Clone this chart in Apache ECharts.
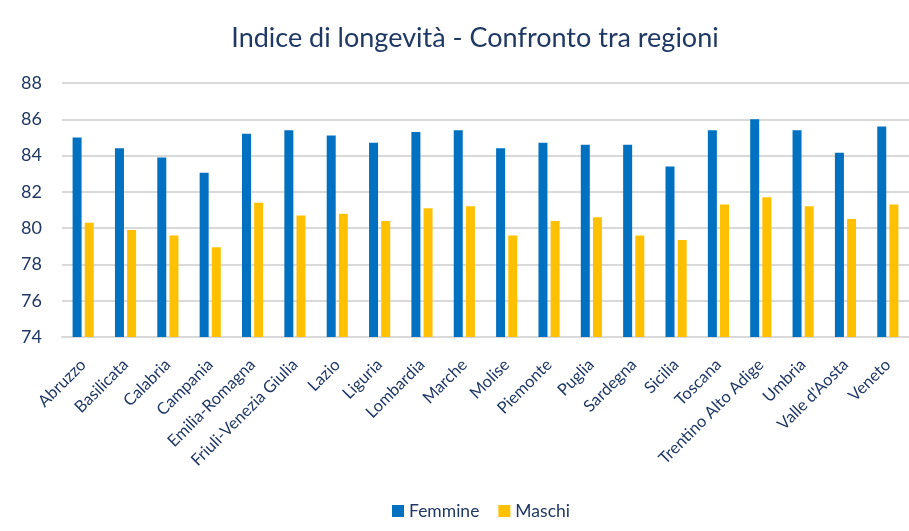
<!DOCTYPE html>
<html>
<head>
<meta charset="utf-8">
<script src="https://cdn.jsdelivr.net/npm/echarts@6/dist/echarts.min.js"></script>
<style>
  html, body { margin: 0; padding: 0; background: #fff; }
  #chart { width: 909px; height: 531px; }
</style>
</head>
<body>
<div id="chart"></div>
<script>
// dati
const regioni = ['Abruzzo', 'Basilicata', 'Calabria', 'Campania', 'Emilia-Romagna', 'Friuli-Venezia Giulia',
  'Lazio', 'Liguria', 'Lombardia', 'Marche', 'Molise', 'Piemonte', 'Puglia', 'Sardegna', 'Sicilia',
  'Toscana', 'Trentino Alto Adige', 'Umbria', "Valle d'Aosta", 'Veneto']
const femmine = [85.0, 84.4, 83.9, 83.05, 85.2, 85.4, 85.1, 84.7, 85.3, 85.4, 84.4, 84.7, 84.6, 84.6, 83.4,
  85.4, 86.0, 85.4, 84.15, 85.6]
const maschi = [80.3, 79.9, 79.6, 78.95, 81.4, 80.7, 80.8, 80.4, 81.1, 81.2, 79.6, 80.4, 80.6, 79.6, 79.35,
  81.3, 81.7, 81.2, 80.5, 81.3]

const testo = '#1F3864'
const font = 'Lato'

let chart = echarts.init(document.getElementById('chart'))
let option = {
  backgroundColor: '#fff',
  animation: false,
  title: {
    text: 'Indice di longevità - Confronto tra regioni',
    left: 470,
    textAlign: 'center',
    top: 20,
    textStyle: { color: testo, fontFamily: font, fontSize: 27, fontWeight: 'normal' }
  },
  legend: {
    top: 497,
    left: 387,
    icon: 'rect',
    itemWidth: 12,
    itemHeight: 12,
    itemGap: 19,
    textStyle: { color: testo, fontFamily: font, fontSize: 17.5 },
    data: ['Femmine', 'Maschi']
  },
  grid: {
    left: 62,
    top: 83,
    width: 854,
    height: 254
  },
  xAxis: {
    type: 'category',
    data: regioni,
    axisLine: { lineStyle: { color: '#D9D9D9', width: 2 } },
    axisTick: { show: false },
    axisLabel: {
      rotate: 45,
      interval: 0,
      margin: 25,
      color: testo,
      fontFamily: font,
      fontSize: 16.5
    }
  },
  yAxis: {
    type: 'value',
    min: 74,
    max: 88,
    interval: 2,
    axisLine: { show: false },
    axisTick: { show: false },
    splitLine: { lineStyle: { color: '#D9D9D9', width: 2 } },
    axisLabel: { color: testo, fontFamily: font, fontSize: 18, margin: 20 }
  },
  series: [
    {
      name: 'Femmine',
      type: 'bar',
      data: femmine,
      barWidth: 9,
      barGap: '35%',
      itemStyle: { color: '#0070C0' }
    },
    {
      name: 'Maschi',
      type: 'bar',
      data: maschi,
      barWidth: 9,
      itemStyle: { color: '#FFC000' }
    }
  ]
}
chart.setOption(option)
window.addEventListener('resize', () => {
  chart.resize()
})
</script>
</body>
</html>
